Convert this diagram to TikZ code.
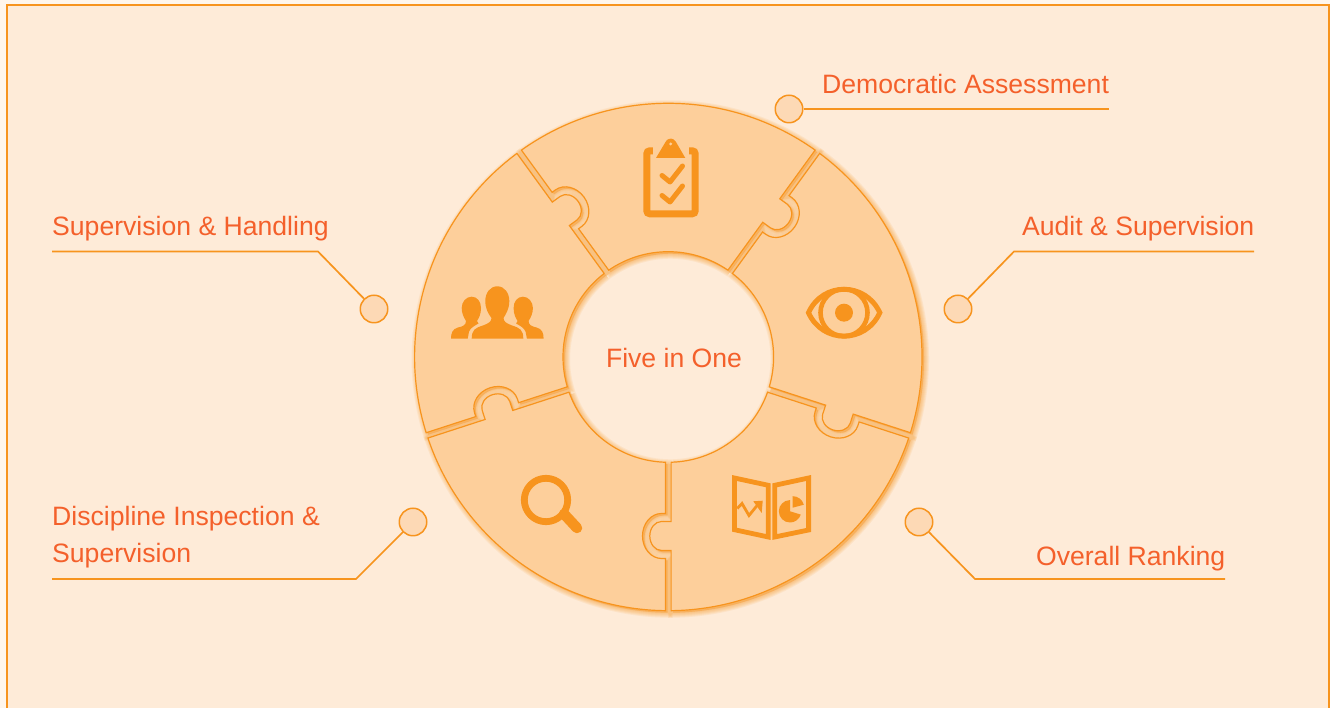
\documentclass[tikz,border=0pt]{standalone}
\usepackage{fontspec}
\setmainfont{Liberation Sans}
\definecolor{pagebg}{HTML}{FEEBD8}
\definecolor{outerbg}{HTML}{FFF6EC}
\definecolor{ringfill}{HTML}{FDCF9B}
\definecolor{edge}{HTML}{F7941E}
\definecolor{ink}{HTML}{F4602B}
\definecolor{dotfill}{HTML}{FDD9B5}
\newcommand{\piecepath}{
  (104.96,2.8) -- (164.5,2.8) -- (164.5,-6.8)
  .. controls (164.5,-13.26) and (171,-18.5) .. (179,-18.5)
  .. controls (187,-18.5) and (193.5,-13.26) .. (193.5,-6.8)
  -- (193.5,2.8) -- (253.68,2.8)
  arc[start angle=0.63, end angle=71.37, radius=253.7]
  -- ([rotate=72]201.5,-2.8) -- ([rotate=72]201.5,-6.8)
  .. controls ([rotate=72]201.5,-17.3) and ([rotate=72]191.4,-25.8) .. ([rotate=72]179,-25.8)
  .. controls ([rotate=72]166.6,-25.8) and ([rotate=72]156.5,-17.3) .. ([rotate=72]156.5,-6.8)
  -- ([rotate=72]156.5,-2.8) -- ([rotate=72]105.26,-2.8)
  arc[start angle=70.47, end angle=1.53, radius=105.3] -- cycle}
\tikzset{
  label text/.style={text=ink,font=\fontsize{26.6}{26.6}\selectfont,inner sep=0pt},
  dotnode/.style={circle,draw=edge,fill=dotfill,line width=1.5pt,minimum size=27.5pt,inner sep=0pt},
  leader/.style={draw=edge,line width=1.7pt},
  piece/.style={fill=ringfill,draw=edge,line width=1.2pt,line join=miter},
  icon/.style={fill=edge,draw=none},
  iconline/.style={draw=edge,fill=none}
}
\begin{document}
\begin{tikzpicture}[x=1pt,y=1pt]
\useasboundingbox (0,0) rectangle (1330,708);
\fill[outerbg] (0,0) rectangle (1330,708);
\fill[pagebg] (7,-10) rectangle (1329,703);
\draw[edge,line width=2pt] (7,-10) -- (7,703) -- (1329,703) -- (1329,-10);
% shadows
\foreach \a in {270,342,54,126,198}{
  \begin{scope}[shift={(670.3,349)},rotate=\a]
    \foreach \w in {10,8,6,4,2}{
      \draw[edge,opacity=.10,fill=edge,line width=\w pt] \piecepath;
    }
  \end{scope}
}
% pieces
\foreach \a in {270,342,54,126,198}{
  \begin{scope}[shift={(668.3,351)},rotate=\a]
    \path[piece] \piecepath;
  \end{scope}
}
% clipboard
\draw[iconline,line width=7pt,rounded corners=3pt] (646.8,708-150.8) rectangle (695.2,708-213.8);
\fill[ringfill] (653,708-146) rectangle (688.5,708-156);
\path[fill=ringfill,draw=ringfill,line width=3pt,line join=round] (656,708-158) -- (666,708-141) -- (675.4,708-141) -- (685.3,708-158) -- cycle;
\path[icon,even odd rule] (656,708-158) -- (665.8,708-141.5) arc[start angle=150,end angle=30,radius=5.7] -- (685.3,708-158) -- cycle
  (670.7,708-144) circle[radius=1.8];
\draw[iconline,line width=5pt,line cap=round,line join=round] (662,708-175.5) -- (670,708-182) -- (682.5,708-166);
\draw[iconline,line width=5pt,line cap=round,line join=round] (662,708-195.5) -- (670,708-202) -- (682.5,708-186);
% eye
\draw[iconline,line width=5pt,line join=miter,miter limit=10] (808.5,708-312.7) .. controls (822.5,708-281.5) and (865.5,708-281.5) .. (879.8,708-312.7) .. controls (865.5,708-344) and (822.5,708-344) .. (808.5,708-312.7) -- cycle;
\draw[iconline,line width=4.6pt] (844,708-312.7) circle[radius=23.5];
\fill[edge] (844,708-312.7) circle[radius=9];
% magnifier
\draw[iconline,line width=6.8pt] (546,708-500) circle[radius=21.7];
\draw[iconline,line width=10.5pt,line cap=round] (564,708-514) -- (577,708-528);
% report
\draw[iconline,line width=4.8pt,line join=miter] (734.4,708-478) -- (768.3,708-485.3) -- (768.3,708-537) -- (734.4,708-529.7) -- cycle;
\draw[iconline,line width=4.8pt,line join=miter] (774.7,708-485.3) -- (808.6,708-478) -- (808.6,708-530) -- (774.7,708-537) -- cycle;
\draw[iconline,line width=2.8pt] (737.3,708-508.5) -- (742,708-503.5) -- (749,708-515.5) -- (757.5,708-505);
\fill[edge] (753.3,708-501.3) -- (762.7,708-500.7) -- (761.7,708-513) -- cycle;
\fill[edge] (790,708-511.3) -- (790,708-500.1) arc[start angle=90,end angle=343,radius=11.2] -- cycle;
\fill[edge] (792.7,708-507.7) -- (792.7,708-496.2) arc[start angle=90,end angle=15,radius=11.5] -- cycle;
% people
\path[icon] (471.7,708-296.7) .. controls (477.5,708-296.7) and (481,708-302) .. (481,708-308)
  .. controls (481,708-314) and (479,708-318) .. (477,708-321) -- (478.5,708-323.5)
  .. controls (474,708-326) and (470.5,708-328) .. (469,708-331.7) -- (467.7,708-338.7) -- (451,708-338.7)
  .. controls (451,708-333) and (452.5,708-329) .. (458,708-327.5)
  .. controls (463,708-326.5) and (466,708-325) .. (466,708-321)
  .. controls (463.5,708-317) and (461.7,708-313) .. (461.7,708-308)
  .. controls (461.7,708-302) and (466,708-296.7) .. (471.7,708-296.7) -- cycle;
\path[icon] (522.9,708-296.7) .. controls (517.1,708-296.7) and (513.6,708-302) .. (513.6,708-308)
  .. controls (513.6,708-314) and (515.6,708-318) .. (517.6,708-321) -- (516.1,708-323.5)
  .. controls (520.6,708-326) and (524.1,708-328) .. (525.6,708-331.7) -- (526.9,708-338.7) -- (543.6,708-338.7)
  .. controls (543.6,708-333) and (542.1,708-329) .. (536.6,708-327.5)
  .. controls (531.6,708-326.5) and (528.6,708-325) .. (528.6,708-321)
  .. controls (531.1,708-317) and (532.9,708-313) .. (532.9,708-308)
  .. controls (532.9,708-302) and (528.5,708-296.7) .. (522.9,708-296.7) -- cycle;
\path[icon] (497.3,708-286.3) .. controls (504.5,708-286.3) and (509.3,708-293) .. (509.3,708-301)
  .. controls (509.3,708-309) and (506,708-314) .. (503.5,708-318)
  .. controls (503.5,708-322) and (507,708-323.5) .. (512,708-325.5)
  .. controls (520,708-328) and (523.3,708-330) .. (523.3,708-338.7) -- (471.7,708-338.7)
  .. controls (471.7,708-330) and (475,708-328) .. (483,708-325.5)
  .. controls (488,708-323.5) and (491.5,708-322) .. (491.5,708-318)
  .. controls (488.5,708-314) and (485.3,708-309) .. (485.3,708-301)
  .. controls (485.3,708-293) and (490,708-286.3) .. (497.3,708-286.3) -- cycle;
% labels
\node[label text,anchor=base west] (tDem) at (822,708-94) {Democratic Assessment};
\node[label text,anchor=base west] (tSup) at (52,708-236) {Supervision \& Handling};
\node[label text,anchor=base east] (tAud) at (1254.5,708-236) {Audit \& Supervision};
\node[label text,anchor=base east] (tOve) at (1225.5,708-566) {Overall Ranking};
\node[label text,anchor=base west] (tDis) at (52,708-526) {Discipline Inspection \&};
\node[label text,anchor=base west] (tDis2) at (52,708-563) {Supervision};
\node[label text,anchor=base] (center) at (674,708-368) {Five in One};
% callouts
\node[dotnode] (dDem) at (789,708-109) {};
\node[dotnode] (dSup) at (374,708-309) {};
\node[dotnode] (dAud) at (958,708-309) {};
\node[dotnode] (dOve) at (919,708-522) {};
\node[dotnode] (dDis) at (413,708-522) {};
\coordinate (eDem) at (1109,708-109);
\coordinate (kSup) at (318,708-251.5); \coordinate (eSup) at (52,708-251.5);
\coordinate (kAud) at (1014,708-251.5); \coordinate (eAud) at (1254,708-251.5);
\coordinate (kOve) at (975,708-579); \coordinate (eOve) at (1225,708-579);
\coordinate (kDis) at (356,708-579); \coordinate (eDis) at (52,708-579);
\draw[leader] (dDem.east) -- (eDem);
\draw[leader] (dSup) -- (kSup) -- (eSup);
\draw[leader] (dAud) -- (kAud) -- (eAud);
\draw[leader] (dOve) -- (kOve) -- (eOve);
\draw[leader] (dDis) -- (kDis) -- (eDis);
\end{tikzpicture}
\end{document}
